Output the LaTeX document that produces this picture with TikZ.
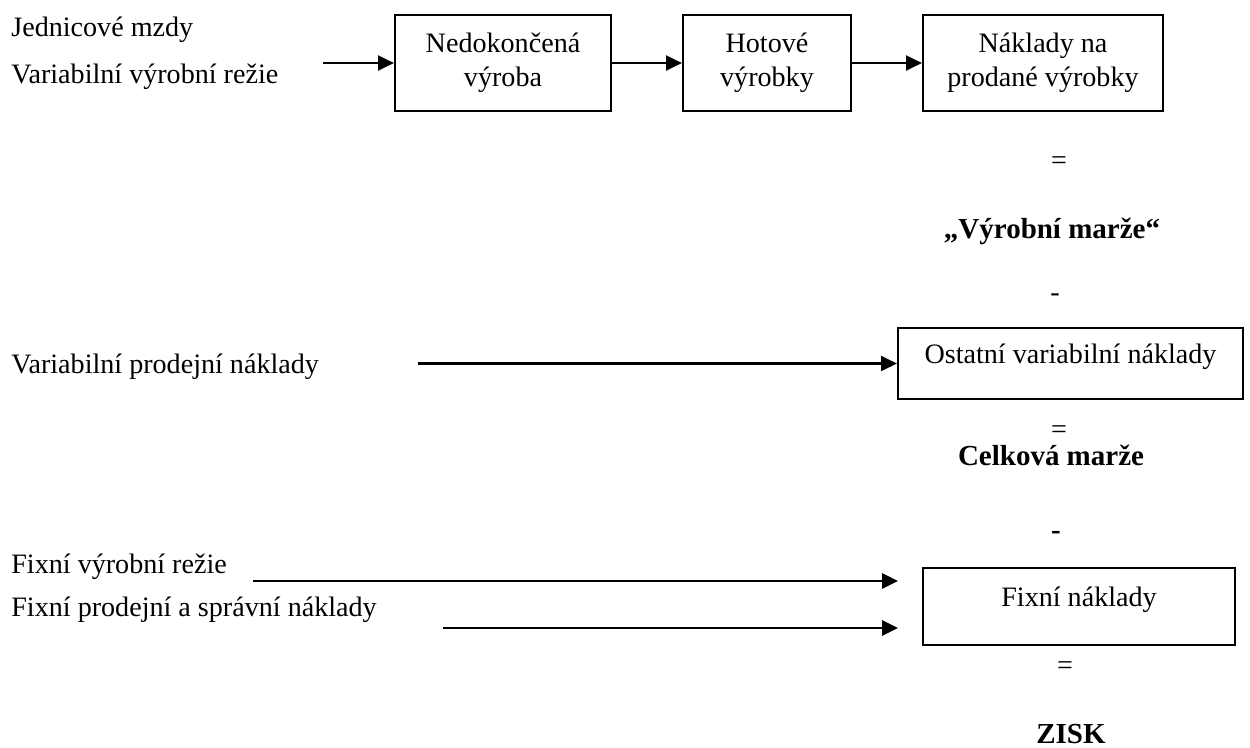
\documentclass[tikz,border=0pt]{standalone}
\usepackage{fontspec}
\setmainfont{Liberation Serif}
\usetikzlibrary{arrows.meta}

\begin{document}
\begin{tikzpicture}[x=0.02cm, y=-0.02cm,
    every node/.style={font=\fontsize{16}{19.3}\selectfont},
    stage/.style={draw, line width=1.3pt, align=center, inner sep=0pt, minimum height=1.92cm},
    item/.style={anchor=base west, inner sep=0pt},
    sign/.style={inner sep=0pt},
    result/.style={anchor=base, inner sep=0pt, font=\fontsize{16.5}{19.3}\selectfont\bfseries},
    flow/.style={line width=1.3pt, -{Triangle[length=9pt, width=8.5pt]}}]
  \useasboundingbox (0,0) rectangle (1250,747);

  % vyrobni tok
  \node[stage, minimum width=4.32cm] (nedok) at (503,63) {Nedokončená\\výroba};
  \node[stage, minimum width=3.36cm] (hotove) at (767,63) {Hotové\\výrobky};
  \node[stage, minimum width=4.8cm] (prodane) at (1043,63) {Náklady na\\prodané výrobky};

  \node[item] (mzdy) at (11,36) {Jednicové mzdy};
  \node[item] (vvr) at (11,83) {Variabilní výrobní režie};
  \coordinate (vvr-out) at (323,63);

  \draw[flow] (vvr-out) -- (nedok.west);
  \draw[flow] (nedok) -- (hotove);
  \draw[flow] (hotove) -- (prodane);

  \node[sign] (rov1) at (1059,163) {=};
  \node[result] (vmarze) at (1052,238) {„Výrobní marže“};
  \node[sign] (minus1) at (1055,298) {-};

  % ostatni variabilni
  \node[stage, minimum width=6.9cm, minimum height=1.42cm, text height=0.3cm, text depth=0.3cm] (ostatni) at (1070.5,363.5) {Ostatní variabilní náklady};
  \node[item] (vpn) at (11,373) {Variabilní prodejní náklady};
  \coordinate (vpn-out) at (418,363.5);
  \draw[flow] (vpn-out) -- (ostatni.west);

  \node[sign] (rov2) at (1059,432) {=};
  \node[result] (cmarze) at (1051,465) {Celková marže};
  \node[sign, font=\fontsize{16.5}{19.3}\selectfont\bfseries] (minus2) at (1056,535) {-};

  % fixni
  \node[stage, minimum width=6.24cm, minimum height=1.54cm, text height=0.3cm, text depth=0.3cm] (fixni) at (1079,606.5) {Fixní náklady};
  \node[item] (fvr) at (11,573) {Fixní výrobní režie};
  \node[item] (fpsn) at (11,616) {Fixní prodejní a správní náklady};
  \coordinate (fvr-out) at (253,581);
  \coordinate (fvr-in) at (898,581);
  \coordinate (fpsn-out) at (443,628);
  \coordinate (fpsn-in) at (898,628);
  \draw[flow] (fvr-out) -- (fvr-in);
  \draw[flow] (fpsn-out) -- (fpsn-in);

  \node[sign] (rov3) at (1065,668) {=};
  \node[result] (zisk) at (1071,743) {ZISK};
\end{tikzpicture}
\end{document}
